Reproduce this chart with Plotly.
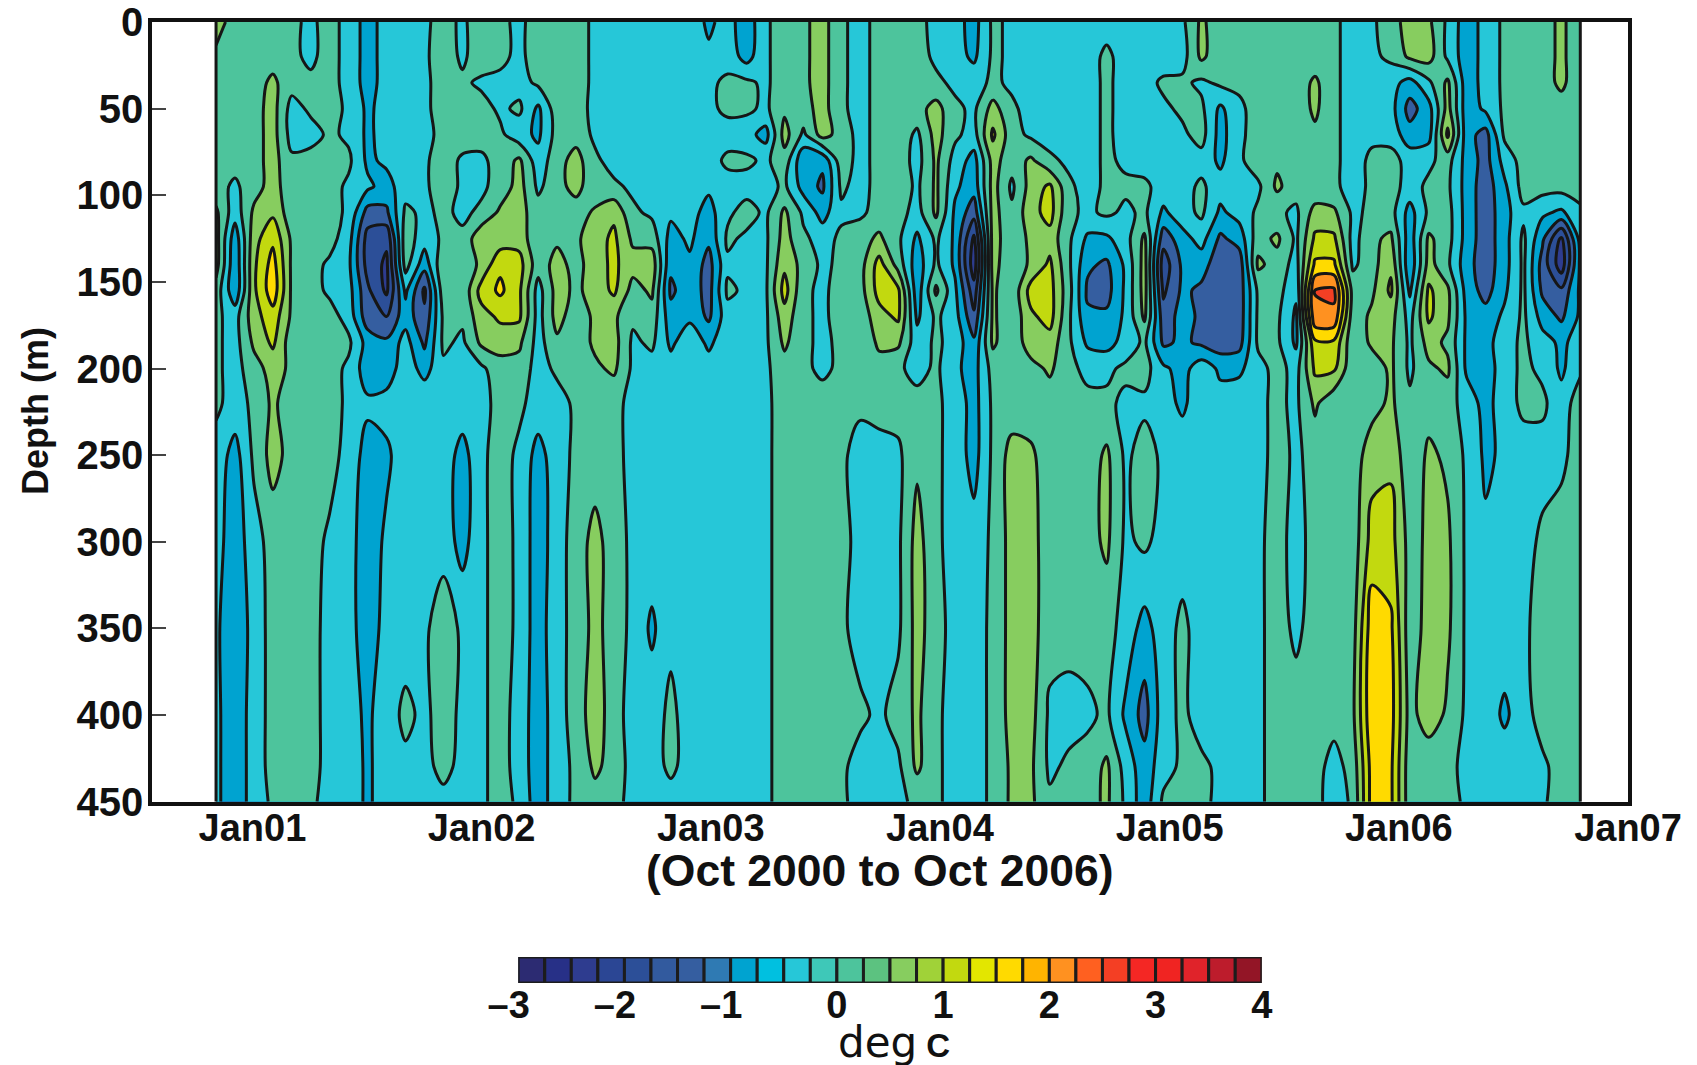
import numpy as np
import pandas as pd
import plotly.graph_objects as go

# Depth (m) and time axis
depths = [0, 20, 35, 50, 65, 80, 95, 110, 125, 140, 155, 170, 185, 200, 220, 250, 300, 350, 400, 430, 450]
times = pd.date_range("2000-11-04", "2006-10-17", periods=73)

# Temperature anomaly in tenths of a degree, one row per depth, 73 columns
d000 = [7,3,3,3,1,-1,2,-2,-7,-3, -2,-1,2,-1,3,1,-1,2,3,2, -1,-2,-2,-2,-2,-2,-6,-3,-8,-1, 3,4,7,1,-2,2,3,2,-2,-3, -7,1,-1,-2,-3,-3,-3,-2,-2,-2, -3,-1,6,2,1,2,2,2,2,1, -2,-1,3,7,6,-1,-8,-3,1,2, 3,6,2]
d020 = [4,3,3,3,1,-1,2,-2,-7,-3, -2,-1,3,-1,3,1,-1,2,3,2, -1,-2,-2,-2,-2,-2,-4,-2,-7,-1, 3,4,7,1,-2,2,3,2,-1,-3, -6,1,-1,-2,-2,-2,-2,1,-2,-2, -3,-2,6,2,1,2,2,2,2,1, -2,-1,1,6,7,-1,-8,-3,1,2, 3,6,2]
d035 = [2,2,3,6,2,1,2,-2,-7,-3, -2,-1,2,1,-1,-1,-2,1,3,2, -1,-2,-2,-2,-2,-2,-1,1,1,-1, 3,4,7,1,-2,2,3,2,1,-1, -2,1,-1,-2,-2,-2,-2,1,-2,-2, 1,1,-1,1,1,2,2,2,6,1, -2,-3,-3,-7,-1,6,-8,-3,1,2, 3,6,2]
d050 = [2,2,3,7,-2,1,2,-1,-6,-3, -2,-1,2,2,2,-1,1,-6,3,3, -2,-2,-2,-2,-2,-2,-1,1,1,-1, 4,3,7,1,-2,2,3,3,7,1, -1,7,1,-2,-2,-2,-2,1,-2,-2, -1,1,1,-6,-1,2,2,2,6,1, -2,-2,-3,-12,-7,7,-8,-4,1,2, 2,3,2]
d065 = [2,2,3,7,-2,-2,1,-1,-6,-3, -2,-2,2,3,2,1,-3,-6,2,3, -1,-2,-2,-2,-2,-2,-2,-2,-3,-7, 7,-1,7,3,-2,2,3,-1,7,1, -2,11,2,-1,-2,-2,-2,1,-2,-2, -1,-1,2,-7,-1,2,2,2,4,1, -2,-1,-2,-8,-7,11,-8,-12,1,2, 2,2,2]
d080 = [2,2,3,7,1,2,2,1,-6,-4, -2,-1,3,-1,-1,2,6,-3,3,7, 1,-2,-3,-3,-3,-3,-2,1,1,-1, 3,-9,-9,3,-2,2,3,-2,6,-2, -7,7,2,6,1,-1,-2,1,-1,-2, -2,-2,-2,-6,-1,3,4,2,2,1, -2,1,2,-2,-1,2,-7,-12,-3,2, 2,2,2]
d095 = [2,-1,3,7,2,2,2,-1,-4,-7, -2,-1,3,-1,-1,2,7,-1,3,7, 1,1,-1,-2,-2,-3,-4,-2,-2,-2, 1,-7,-11,1,-2,2,3,-1,6,-4, -8,7,-1,7,11,1,-2,1,1,1, -2,-2,1,-3,-3,-1,6,2,1,1, -2,1,2,-2,1,1,-7,-13,-6,2, 2,2,2]
d110 = [6,-3,6,9,2,2,2,-1,-12,-11, 1,-1,1,-1,1,6,7,2,2,2, 6,9,1,-1,-4,-3,-7,-1,2,-1, 6,-1,-7,-1,-1,2,2,-2,6,-6, -13,7,1,8,12,1,-1,1,-1,1, -6,-2,1,-6,-3,1,1,-1,7,6, -1,1,2,-7,1,2,-7,-13,-7,-1, -4,-6,-1]
d125 = [7,-8,8,14,4,2,2,-3,-17,-19, 3,-3,1,1,9,7,8,1,4,4, 8,11,4,3,-7,-4,-9,1,-1,-1, 7,1,-2,1,3,6,1,-6,1,-6, -21,7,2,6,8,1,-6,-6,-2,6, -13,-7,-3,-11,-8,3,6,-1,11,11, -2,4,6,-8,6,2,-7,-13,-7,1, -9,-21,-3]
d140 = [7,-9,9,17,4,2,-1,-4,-17,-21, 2,-8,4,2,6,14,12,2,7,3, 8,11,7,8,-9,-6,-12,-1,-1,-1, 9,3,-1,1,3,12,3,-8,1,-6, -23,7,1,6,11,1,-9,-11,-4,7, -18,-9,-8,-13,-13,6,3,-2,16,16, -1,3,9,-9,7,1,-8,-13,-7,1, -12,-23,-4]
d155 = [3,-9,9,18,4,2,-1,-3,-14,-21, -4,-16,3,1,12,16,11,-2,7,4, 7,11,3,6,-11,-7,-12,1,-1,-1, 12,1,-1,2,3,12,11,-8,6,-4, -18,6,1,12,12,2,-11,-12,-4,7, -16,-9,-11,-13,-13,1,2,-4,25.2,26, 3,4,11,-6,11,6,-7,-12,-6,1, -11,-14,-4]
d170 = [1,-2,8,13,4,2,2,-2,-13,-15, -7,-14,1,1,8,11,11,-2,7,2, 6,6,1,3,-8,-6,-11,-2,-1,-1, 8,1,-1,2,2,8,11,-6,1,-3, -14,6,1,9,12,1,-9,-9,-4,6, -13,-8,-11,-14,-13,1,1,-6,24,24, 2,6,7,-2,11,6,-6,-8,-4,1, -7,-11,-4]
d185 = [1,-2,6,11,2,2,1,1,-7,-9, -3,-11,1,-1,6,7,6,-2,4,2, 6,7,-1,1,-6,-2,-6,-2,-2,-1, 6,1,-1,1,1,6,6,-3,1,-2, -9,6,1,8,8,1,-6,-7,-3,1, -11,-9,-11,-13,-12,1,1,-6,14,14, 1,6,6,-1,7,4,-6,-7,-2,1, -3,-6,-3]
d200 = [1,-2,3,7,4,2,2,-1,-8,-8, -2,-7,-1,-2,-1,3,3,-2,1,1, 4,6,-1,-2,-3,-2,-3,-2,-2,-1, 3,1,-1,1,2,3,1,-2,1,-4, -7,2,2,3,6,1,-1,-1,1,2, -4,-7,-2,-6,-6,-2,2,-2,11,11, 1,2,6,-1,4,6,-6,-8,-2,1, -1,-6,-1]
d220 = [1,-2,1,6,2,2,2,-1,-4,-3, -2,-1,-2,-2,-1,1,1,-2,-2,1, 2,1,-1,-2,-2,-2,-2,-2,-2,-1, 2,2,2,1,1,1,2,2,1,-2, -7,1,2,2,2,2,1,1,-1,-1, -3,-6,-2,-3,-2,-1,1,-1,6,1, 1,3,6,1,3,2,-2,-7,-2,1, 1,-3,3]
d250 = [-2,-7,1,7,3,3,2,-2,-7,-6, -2,-2,-2,-7,-1,2,-1,-7,-2,1, 2,1,-1,-2,-2,-2,-2,-2,-2,-1, 2,2,2,1,-2,-1,-1,4,1,-2, -7,1,7,6,2,2,2,6,-1,2, -1,-2,-2,-2,-2,-2,2,-1,2,2, 2,8,9,1,6,4,-1,-6,-4,-2, -2,-1,2]
d300 = [-3,-8,-2,2,3,2,-1,-3,-8,-4, -2,-2,-2,-7,-1,2,-1,-8,-2,2, 7,2,-1,-2,-2,-2,-2,-2,-2,-1, 2,2,2,2,-2,-2,-1,7,1,-2, -3,1,7,7,2,2,3,6,-1,1, -2,-2,-2,-2,-2,-1,2,-2,2,2, 2,12,12,3,6,6,-1,-4,-2,-2, 1,2,3]
d350 = [-4,-9,-3,2,3,2,-2,-3,-8,-3, -2,-1,3,-1,-1,2,-1,-8,-1,1, 7,2,-1,-6,-1,-2,-2,-2,-2,-1, 2,2,2,1,-2,-2,-1,7,2,-2, -2,1,7,7,2,2,2,2,-2,-7, -2,1,-2,-2,-2,-1,2,-1,2,2, 3,18,16,2,7,6,-1,-2,-2,-1, 2,3,3]
d400 = [-4,-8,-3,2,3,2,-2,-3,-6,-2, 1,-1,2,-1,-1,2,-2,-8,-2,2, 8,2,-2,-2,1,-2,-2,-2,-2,-1, 2,2,2,2,1,-1,2,6,1,-2, -2,1,7,7,-1,-2,-1,1,-6,-12, -2,1,-2,-2,-2,-1,2,2,2,2, 4,19,17,3,8,4,-1,-2,-6,-2, 2,3,3]
d430 = [-4,-8,-3,2,3,2,-2,-2,-6,-2, -1,-1,1,-1,-1,2,-2,-8,-2,1, 6,3,-2,-2,1,-2,-2,-2,-2,-1, 2,2,2,1,-2,-2,-1,6,1,-2, -2,1,6,6,-1,1,2,6,-2,-8, -2,1,1,-1,-2,-1,2,2,2,-2, 2,17,16,2,1,1,-1,-2,-2,-1, -1,2,3]
d450 = [-4,-8,-3,1,3,1,-2,-2,-6,-2, -2,-1,-1,-1,-1,2,-1,-8,-2,1, 3,2,-2,-4,-2,-2,-2,-2,-2,-1, 2,2,2,1,-2,-2,-1,1,1,-2, -2,1,6,6,1,2,3,6,-1,-8, 1,2,1,-1,-2,-1,2,2,2,-3, 1,17,16,2,2,2,-1,-2,-2,-2, -1,3,3]

rows = [d000, d020, d035, d050, d065, d080, d095, d110, d125, d140, d155, d170, d185, d200,
        d220, d250, d300, d350, d400, d430, d450]
anomaly = np.array(rows) / 10.0

# Colour key: 28 cells of 0.25 deg from -3 to 4
key_edges = np.arange(-3, 4.01, 0.25)
key_colors = ["#2c2b72", "#273087", "#2e3c8f", "#2b4694", "#2c4f98", "#325a9e", "#355ea0", "#2f7ab3",
              "#00a3d0", "#00c0e0", "#26c7d8", "#3ec8b8", "#4dc49c", "#5cc280", "#87cd5f", "#a0d238",
              "#c2d90f", "#e3e600", "#ffda00", "#ffb400", "#ff9120", "#ff6020", "#f43f24", "#f42724",
              "#f02422", "#e0232a", "#bd1c2c", "#931526"]
key_ticks = [-3, -2, -1, 0, 1, 2, 3, 4]
key_labels = ["\u20133\u2002", "\u20132\u2002", "\u20131\u2002", "0", "1", "2", "3", "4"]

# Contour bands are 0.5 deg wide; each takes the colour of its lower key cell
band_colors = key_colors[::2]
n = len(band_colors)
scale = []
for i, c in enumerate(band_colors):
    scale += [[i / n, c], [(i + 1) / n, c]]

INK = "#161616"
BOLD = "Liberation Sans"
DARK = "#111111"
font_x = dict(family=BOLD, size=38, color=DARK, weight="bold")
font_y = dict(family=BOLD, size=40, color=DARK, weight="bold")
font_key = dict(family=BOLD, size=38, color=DARK, weight="bold")

fig = go.Figure()
fig.add_trace(go.Contour(
    x=times, y=depths, z=anomaly,
    zmin=-3, zmax=4, autocontour=False,
    contours=dict(start=-3, end=4, size=0.5, coloring="fill"),
    colorscale=scale, showscale=False,
    line=dict(color=INK, width=3, smoothing=0.9),
    xaxis="x", yaxis="y", hoverinfo="skip",
))
key_mid = (key_edges[:-1] + key_edges[1:]) / 2
fig.add_trace(go.Bar(
    x=key_mid, y=[1] * len(key_mid), width=0.25,
    marker=dict(color=key_colors, line=dict(color="#1c1c1c", width=3)),
    xaxis="x2", yaxis="y2", hoverinfo="skip", showlegend=False,
))

for t in (times[0], times[-1]):
    fig.add_shape(type="line", xref="x", yref="y", x0=t, x1=t, y0=depths[0], y1=depths[-1],
                  line=dict(color=INK, width=3))

fig.update_layout(
    width=1697, height=1065, autosize=False,
    margin=dict(l=151.5, r=68.5, t=21.5, b=0, autoexpand=False),
    paper_bgcolor="white", plot_bgcolor="white", showlegend=False,
    xaxis=dict(type="date", domain=[0, 1], range=["2000-07-25", "2007-01-01"],
               tick0="2001-01-01", dtick="M12", tickformat="%b%y", ticks="",
               showgrid=False, zeroline=False, showline=True, linewidth=3.5, linecolor=DARK,
               mirror=True, tickfont=font_x, anchor="y", ticklabelstandoff=-10, ticklabeloverflow="allow"),
    yaxis=dict(domain=[0.2525, 1], range=[450, 0], tick0=0, dtick=50, ticks="inside", ticklen=14,
               tickwidth=2, tickcolor="#444444", showgrid=False, zeroline=False, showline=True,
               linewidth=3.5, linecolor=DARK, mirror=True, tickfont=font_y, anchor="x",
               ticklabelstandoff=-3, ticklabeloverflow="allow"),
    xaxis2=dict(domain=[0.2481, 0.7519], range=[-3, 4], tickvals=key_ticks, ticktext=key_labels, ticks="",
                showgrid=False, zeroline=False, showline=False, tickfont=font_key, anchor="y2",
                ticklabelstandoff=-4, ticklabeloverflow="allow"),
    yaxis2=dict(domain=[0.0786, 0.1035], range=[0, 1], showticklabels=False, ticks="",
                showgrid=False, zeroline=False, showline=False, anchor="x2"),
    annotations=[
        dict(xref="paper", yref="paper", x=0.503, y=-0.004, yanchor="bottom", xanchor="center",
             showarrow=False,
             text="<span style='font-family:DejaVu Sans;font-size:42px;font-weight:normal'>deg</span> <b>C</b>",
             font=dict(family=BOLD, size=33, color=DARK)),
        dict(xref="paper", yref="paper", x=0.4932, y=0.1868, yanchor="middle", xanchor="center",
             showarrow=False, text="(Oct 2000 to Oct 2006)",
             font=dict(family=BOLD, size=44.5, color=DARK, weight="bold")),
        dict(xref="paper", yref="paper", x=-0.0789, y=0.6267, yanchor="middle", xanchor="center",
             showarrow=False, text="Depth (m)", textangle=-90,
             font=dict(family=BOLD, size=36, color=DARK, weight="bold")),
    ],
)

fig.write_html("out.html", post_script="document.body.style.margin='0';",
               config=dict(displayModeBar=False))
